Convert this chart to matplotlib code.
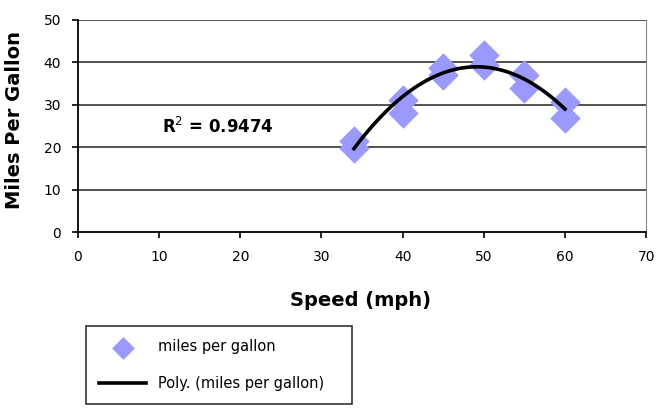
import numpy as np
import matplotlib.pyplot as plt

# speed (mph) vs miles per gallon, two runs at each speed
speed = [34, 34, 40, 40, 45, 45, 50, 50, 55, 55, 60, 60]
mpg = [21.5, 19.8, 31.2, 28.1, 38.7, 37.0, 41.7, 39.4, 37.0, 34.0, 30.6, 26.9]
r2_label = "R$^2$ = 0.9474"

fig = plt.figure(figsize=(6.58, 4.13), dpi=100)
ax = fig.add_axes([0.1185, 0.438, 0.8635, 0.514])

ax.scatter(speed, mpg, marker='D', s=240, color='#9999ff', linewidths=0,
           zorder=3, label='miles per gallon')

# second order polynomial trendline
coef = np.polyfit(speed, mpg, 2)
xs = np.linspace(min(speed), max(speed), 100)
ax.plot(xs, np.polyval(coef, xs), color='black', lw=2.6, zorder=4,
        label='Poly. (miles per gallon)')

ax.text(10.4, 24.7, r2_label, fontsize=12, fontweight='bold', va='center')

ax.set_xlim(0, 70)
ax.set_ylim(0, 50)
ax.set_xticks(range(0, 71, 10))
ax.set_yticks(range(0, 51, 10))
for y in range(10, 51, 10):
    ax.axhline(y, color='#222222', lw=1.1, zorder=1)
ax.tick_params(direction='out', length=4, width=1.2, labelsize=10)
ax.tick_params(axis='x', pad=9)
ax.tick_params(axis='y', pad=8)
ax.spines['top'].set_visible(False)
ax.spines['right'].set_color('#888888')
ax.spines['left'].set_linewidth(1.3)
ax.spines['bottom'].set_linewidth(1.3)

ax.set_xlabel('Speed (mph)', fontsize=14, fontweight='bold', va='center')
ax.set_ylabel('Miles Per Gallon', fontsize=14, fontweight='bold', va='center')
ax.xaxis.set_label_coords(0.498, -0.32)
ax.yaxis.set_label_coords(-0.111, 0.53)

leg = fig.legend(loc='lower left', bbox_to_anchor=(0.12, 0.003, 0.426, 0.2),
                 mode='expand', fontsize=10.5, markerscale=0.75,
                 frameon=True, fancybox=False, edgecolor='black',
                 handlelength=3.2, borderpad=0.9, labelspacing=1.5)
leg.get_frame().set_linewidth(1.2)

fig.savefig('out.png', dpi=100)
